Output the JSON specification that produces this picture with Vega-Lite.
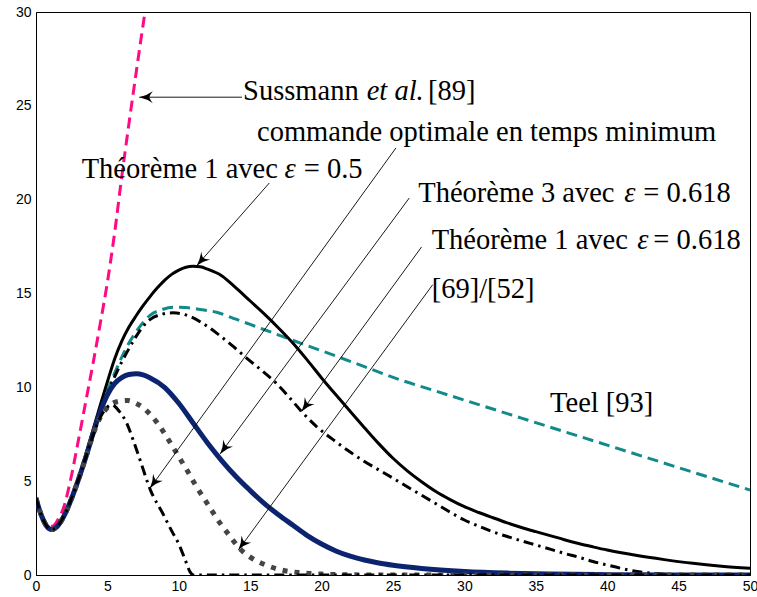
{
  "$schema": "https://vega.github.io/schema/vega-lite/v6.json",
  "width": 714,
  "height": 563,
  "autosize": {"type": "none"},
  "padding": {"left": 36, "top": 12, "right": 7, "bottom": 22},
  "background": "white",
  "config": {
    "view": {"stroke": "black", "strokeWidth": 1},
    "axis": {
      "grid": false,
      "domainColor": "black",
      "domainWidth": 1,
      "ticks": false,
      "labelColor": "black",
      "labelFont": "Liberation Sans",
      "labelFontSize": 14,
      "labelFlush": false,
      "labelOverlap": false,
      "title": null
    }
  },
  "datasets": {
    "curves": [
      {"s": "suss", "x": 0, "y": 4.1}, {"s": "suss", "x": 0.25, "y": 3.45}, {"s": "suss", "x": 0.5, "y": 2.97}, {"s": "suss", "x": 0.75, "y": 2.68}, {"s": "suss", "x": 1, "y": 2.58}, {"s": "suss", "x": 1.25, "y": 2.64}, {"s": "suss", "x": 1.5, "y": 2.9}, {"s": "suss", "x": 2, "y": 3.75}, {"s": "suss", "x": 2.4, "y": 5.0}, {"s": "suss", "x": 3, "y": 7.3}, {"s": "suss", "x": 3.5, "y": 9.3}, {"s": "suss", "x": 4, "y": 11.3}, {"s": "suss", "x": 4.5, "y": 13.4}, {"s": "suss", "x": 5, "y": 15.6}, {"s": "suss", "x": 5.5, "y": 18.2}, {"s": "suss", "x": 6, "y": 21.2}, {"s": "suss", "x": 6.5, "y": 24.0}, {"s": "suss", "x": 7, "y": 26.7}, {"s": "suss", "x": 7.63, "y": 30},

      {"s": "teel", "x": 0, "y": 4.1}, {"s": "teel", "x": 0.25, "y": 3.45}, {"s": "teel", "x": 0.5, "y": 2.95}, {"s": "teel", "x": 0.75, "y": 2.6}, {"s": "teel", "x": 1.1, "y": 2.42}, {"s": "teel", "x": 1.5, "y": 2.6}, {"s": "teel", "x": 2, "y": 3.2}, {"s": "teel", "x": 2.5, "y": 4.1}, {"s": "teel", "x": 3, "y": 5.15},
      {"s": "teel", "x": 3.5, "y": 6.35}, {"s": "teel", "x": 4, "y": 7.6}, {"s": "teel", "x": 4.5, "y": 8.75}, {"s": "teel", "x": 5, "y": 9.8}, {"s": "teel", "x": 5.41, "y": 10.58}, {"s": "teel", "x": 6, "y": 11.6}, {"s": "teel", "x": 6.58, "y": 12.45}, {"s": "teel", "x": 7, "y": 12.95}, {"s": "teel", "x": 7.5, "y": 13.45}, {"s": "teel", "x": 8, "y": 13.85}, {"s": "teel", "x": 8.75, "y": 14.12}, {"s": "teel", "x": 9.6, "y": 14.27}, {"s": "teel", "x": 10.5, "y": 14.25}, {"s": "teel", "x": 11.5, "y": 14.15}, {"s": "teel", "x": 12.65, "y": 14.0}, {"s": "teel", "x": 14, "y": 13.63}, {"s": "teel", "x": 15, "y": 13.35}, {"s": "teel", "x": 16, "y": 13.07}, {"s": "teel", "x": 17.3, "y": 12.7}, {"s": "teel", "x": 19, "y": 12.22}, {"s": "teel", "x": 21, "y": 11.67}, {"s": "teel", "x": 23, "y": 11.1}, {"s": "teel", "x": 25.5, "y": 10.4}, {"s": "teel", "x": 28, "y": 9.8}, {"s": "teel", "x": 31, "y": 9.08}, {"s": "teel", "x": 34, "y": 8.36}, {"s": "teel", "x": 37, "y": 7.64}, {"s": "teel", "x": 40, "y": 6.92}, {"s": "teel", "x": 43, "y": 6.2}, {"s": "teel", "x": 46, "y": 5.48}, {"s": "teel", "x": 50, "y": 4.53},

      {"s": "t05", "x": 0, "y": 4.1}, {"s": "t05", "x": 0.25, "y": 3.45}, {"s": "t05", "x": 0.5, "y": 2.95}, {"s": "t05", "x": 0.75, "y": 2.6}, {"s": "t05", "x": 1.1, "y": 2.42}, {"s": "t05", "x": 1.5, "y": 2.6}, {"s": "t05", "x": 2, "y": 3.2}, {"s": "t05", "x": 2.5, "y": 4.1}, {"s": "t05", "x": 3, "y": 5.2},
      {"s": "t05", "x": 3.5, "y": 6.45}, {"s": "t05", "x": 4, "y": 7.75}, {"s": "t05", "x": 4.5, "y": 9.05}, {"s": "t05", "x": 5, "y": 10.3}, {"s": "t05", "x": 5.5, "y": 11.5}, {"s": "t05", "x": 6, "y": 12.45}, {"s": "t05", "x": 6.5, "y": 13.2}, {"s": "t05", "x": 7, "y": 13.8}, {"s": "t05", "x": 7.5, "y": 14.35}, {"s": "t05", "x": 8, "y": 14.85}, {"s": "t05", "x": 8.5, "y": 15.3}, {"s": "t05", "x": 9, "y": 15.7}, {"s": "t05", "x": 9.5, "y": 16.02}, {"s": "t05", "x": 10, "y": 16.25}, {"s": "t05", "x": 10.5, "y": 16.4}, {"s": "t05", "x": 11, "y": 16.45}, {"s": "t05", "x": 11.5, "y": 16.42}, {"s": "t05", "x": 12, "y": 16.3}, {"s": "t05", "x": 13, "y": 15.95}, {"s": "t05", "x": 14, "y": 15.3}, {"s": "t05", "x": 15, "y": 14.6}, {"s": "t05", "x": 16, "y": 13.9}, {"s": "t05", "x": 17, "y": 13.15}, {"s": "t05", "x": 18, "y": 12.35}, {"s": "t05", "x": 19, "y": 11.45}, {"s": "t05", "x": 20, "y": 10.5}, {"s": "t05", "x": 21, "y": 9.6}, {"s": "t05", "x": 22, "y": 8.72}, {"s": "t05", "x": 23, "y": 7.85}, {"s": "t05", "x": 24, "y": 7.0}, {"s": "t05", "x": 25, "y": 6.22}, {"s": "t05", "x": 26, "y": 5.55}, {"s": "t05", "x": 27, "y": 4.97}, {"s": "t05", "x": 28, "y": 4.45}, {"s": "t05", "x": 29, "y": 4.02}, {"s": "t05", "x": 30, "y": 3.64}, {"s": "t05", "x": 31, "y": 3.33}, {"s": "t05", "x": 32, "y": 3.05}, {"s": "t05", "x": 33, "y": 2.78}, {"s": "t05", "x": 34, "y": 2.53}, {"s": "t05", "x": 35, "y": 2.31}, {"s": "t05", "x": 36, "y": 2.1}, {"s": "t05", "x": 37, "y": 1.88}, {"s": "t05", "x": 38, "y": 1.68}, {"s": "t05", "x": 39, "y": 1.5}, {"s": "t05", "x": 40, "y": 1.33}, {"s": "t05", "x": 42, "y": 1.05}, {"s": "t05", "x": 44, "y": 0.82}, {"s": "t05", "x": 46, "y": 0.62}, {"s": "t05", "x": 48, "y": 0.47}, {"s": "t05", "x": 50, "y": 0.36},

      {"s": "t1618", "x": 0, "y": 4.1}, {"s": "t1618", "x": 0.25, "y": 3.45}, {"s": "t1618", "x": 0.5, "y": 2.95}, {"s": "t1618", "x": 0.75, "y": 2.6}, {"s": "t1618", "x": 1.1, "y": 2.42}, {"s": "t1618", "x": 1.5, "y": 2.6}, {"s": "t1618", "x": 2, "y": 3.2}, {"s": "t1618", "x": 2.5, "y": 4.1}, {"s": "t1618", "x": 3, "y": 5.15},
      {"s": "t1618", "x": 3.5, "y": 6.35}, {"s": "t1618", "x": 4, "y": 7.55}, {"s": "t1618", "x": 4.5, "y": 8.65}, {"s": "t1618", "x": 5, "y": 9.65}, {"s": "t1618", "x": 5.5, "y": 10.55}, {"s": "t1618", "x": 6, "y": 11.35}, {"s": "t1618", "x": 6.5, "y": 12.05}, {"s": "t1618", "x": 7, "y": 12.7}, {"s": "t1618", "x": 7.5, "y": 13.25}, {"s": "t1618", "x": 8, "y": 13.62}, {"s": "t1618", "x": 8.75, "y": 13.88}, {"s": "t1618", "x": 9.6, "y": 13.97}, {"s": "t1618", "x": 10.78, "y": 13.78}, {"s": "t1618", "x": 11.7, "y": 13.4}, {"s": "t1618", "x": 12.65, "y": 12.89}, {"s": "t1618", "x": 13.7, "y": 12.25}, {"s": "t1618", "x": 14.75, "y": 11.56}, {"s": "t1618", "x": 15.8, "y": 10.9}, {"s": "t1618", "x": 16.85, "y": 10.2}, {"s": "t1618", "x": 17.7, "y": 9.5}, {"s": "t1618", "x": 18.6, "y": 8.71}, {"s": "t1618", "x": 19.65, "y": 7.91}, {"s": "t1618", "x": 21, "y": 7.1}, {"s": "t1618", "x": 22, "y": 6.55}, {"s": "t1618", "x": 23, "y": 6.05}, {"s": "t1618", "x": 24, "y": 5.6}, {"s": "t1618", "x": 25, "y": 5.16}, {"s": "t1618", "x": 26, "y": 4.7}, {"s": "t1618", "x": 27, "y": 4.25}, {"s": "t1618", "x": 28, "y": 3.8}, {"s": "t1618", "x": 29, "y": 3.35}, {"s": "t1618", "x": 30, "y": 2.93}, {"s": "t1618", "x": 31, "y": 2.6}, {"s": "t1618", "x": 32, "y": 2.3}, {"s": "t1618", "x": 33, "y": 2.05}, {"s": "t1618", "x": 34, "y": 1.82}, {"s": "t1618", "x": 35, "y": 1.6}, {"s": "t1618", "x": 36, "y": 1.38}, {"s": "t1618", "x": 37, "y": 1.15}, {"s": "t1618", "x": 38, "y": 0.95}, {"s": "t1618", "x": 39, "y": 0.72}, {"s": "t1618", "x": 40, "y": 0.53}, {"s": "t1618", "x": 41, "y": 0.35}, {"s": "t1618", "x": 42, "y": 0.2}, {"s": "t1618", "x": 43, "y": 0.1}, {"s": "t1618", "x": 44, "y": 0.04}, {"s": "t1618", "x": 45, "y": 0.01}, {"s": "t1618", "x": 46, "y": 0}, {"s": "t1618", "x": 50, "y": 0},

      {"s": "t3618", "x": 0, "y": 4.1}, {"s": "t3618", "x": 0.25, "y": 3.45}, {"s": "t3618", "x": 0.5, "y": 2.95}, {"s": "t3618", "x": 0.75, "y": 2.6}, {"s": "t3618", "x": 1.1, "y": 2.42}, {"s": "t3618", "x": 1.5, "y": 2.6}, {"s": "t3618", "x": 2, "y": 3.2}, {"s": "t3618", "x": 2.5, "y": 4.1}, {"s": "t3618", "x": 3, "y": 5.15},
      {"s": "t3618", "x": 3.5, "y": 6.3}, {"s": "t3618", "x": 4, "y": 7.55}, {"s": "t3618", "x": 4.5, "y": 8.7}, {"s": "t3618", "x": 5, "y": 9.6}, {"s": "t3618", "x": 5.5, "y": 10.2}, {"s": "t3618", "x": 6, "y": 10.52}, {"s": "t3618", "x": 6.5, "y": 10.68}, {"s": "t3618", "x": 7.05, "y": 10.72}, {"s": "t3618", "x": 7.5, "y": 10.66}, {"s": "t3618", "x": 8, "y": 10.5}, {"s": "t3618", "x": 9, "y": 10.0}, {"s": "t3618", "x": 10, "y": 9.15}, {"s": "t3618", "x": 11, "y": 8.1}, {"s": "t3618", "x": 12, "y": 7.05}, {"s": "t3618", "x": 13, "y": 6.1}, {"s": "t3618", "x": 14, "y": 5.25}, {"s": "t3618", "x": 15, "y": 4.5}, {"s": "t3618", "x": 16, "y": 3.8}, {"s": "t3618", "x": 17, "y": 3.2}, {"s": "t3618", "x": 18, "y": 2.65}, {"s": "t3618", "x": 19, "y": 2.1}, {"s": "t3618", "x": 20, "y": 1.65}, {"s": "t3618", "x": 21, "y": 1.28}, {"s": "t3618", "x": 22, "y": 1.0}, {"s": "t3618", "x": 23, "y": 0.8}, {"s": "t3618", "x": 24, "y": 0.64}, {"s": "t3618", "x": 25, "y": 0.52}, {"s": "t3618", "x": 27, "y": 0.35}, {"s": "t3618", "x": 30, "y": 0.19}, {"s": "t3618", "x": 33, "y": 0.1}, {"s": "t3618", "x": 36, "y": 0.05}, {"s": "t3618", "x": 40, "y": 0.02}, {"s": "t3618", "x": 45, "y": 0.005}, {"s": "t3618", "x": 50, "y": 0},

      {"s": "lit", "x": 0, "y": 4.1}, {"s": "lit", "x": 0.25, "y": 3.45}, {"s": "lit", "x": 0.5, "y": 2.95}, {"s": "lit", "x": 0.75, "y": 2.6}, {"s": "lit", "x": 1.1, "y": 2.42}, {"s": "lit", "x": 1.5, "y": 2.6}, {"s": "lit", "x": 2, "y": 3.2}, {"s": "lit", "x": 2.5, "y": 4.1}, {"s": "lit", "x": 3, "y": 5.15},
      {"s": "lit", "x": 3.5, "y": 6.3}, {"s": "lit", "x": 4, "y": 7.5}, {"s": "lit", "x": 4.5, "y": 8.4}, {"s": "lit", "x": 5, "y": 8.92}, {"s": "lit", "x": 5.6, "y": 9.22}, {"s": "lit", "x": 6.4, "y": 9.3}, {"s": "lit", "x": 7, "y": 9.15}, {"s": "lit", "x": 7.75, "y": 8.75}, {"s": "lit", "x": 8.5, "y": 8.1}, {"s": "lit", "x": 9.2, "y": 7.3}, {"s": "lit", "x": 10, "y": 6.3}, {"s": "lit", "x": 10.6, "y": 5.55}, {"s": "lit", "x": 11.2, "y": 4.75}, {"s": "lit", "x": 12, "y": 3.8}, {"s": "lit", "x": 12.9, "y": 2.75}, {"s": "lit", "x": 13.5, "y": 2.15}, {"s": "lit", "x": 14.3, "y": 1.38}, {"s": "lit", "x": 15, "y": 0.95}, {"s": "lit", "x": 16.2, "y": 0.5}, {"s": "lit", "x": 17, "y": 0.3}, {"s": "lit", "x": 18.5, "y": 0.12}, {"s": "lit", "x": 20, "y": 0.05}, {"s": "lit", "x": 22, "y": 0.01}, {"s": "lit", "x": 25, "y": 0}, {"s": "lit", "x": 50, "y": 0},

      {"s": "opt", "x": 0, "y": 4.1}, {"s": "opt", "x": 0.25, "y": 3.45}, {"s": "opt", "x": 0.5, "y": 2.95}, {"s": "opt", "x": 0.75, "y": 2.6}, {"s": "opt", "x": 1.1, "y": 2.42}, {"s": "opt", "x": 1.5, "y": 2.6}, {"s": "opt", "x": 2, "y": 3.2}, {"s": "opt", "x": 2.5, "y": 4.1}, {"s": "opt", "x": 3, "y": 5.15},
      {"s": "opt", "x": 3.5, "y": 6.3}, {"s": "opt", "x": 4, "y": 7.45}, {"s": "opt", "x": 4.5, "y": 8.4}, {"s": "opt", "x": 5, "y": 8.95}, {"s": "opt", "x": 5.3, "y": 9.07}, {"s": "opt", "x": 5.9, "y": 8.65}, {"s": "opt", "x": 6.35, "y": 8.1}, {"s": "opt", "x": 6.8, "y": 7.2}, {"s": "opt", "x": 7.3, "y": 6.1}, {"s": "opt", "x": 8, "y": 4.55}, {"s": "opt", "x": 8.9, "y": 3.25}, {"s": "opt", "x": 9.5, "y": 2.35}, {"s": "opt", "x": 10, "y": 1.65}, {"s": "opt", "x": 10.45, "y": 0.8}, {"s": "opt", "x": 10.8, "y": 0.15}, {"s": "opt", "x": 11, "y": 0}, {"s": "opt", "x": 50, "y": 0}
    ],
    "arrows": [
      {"x": 14.43, "y": 25.46, "x2": 7.23, "y2": 25.46},
      {"x": 25.21, "y": 22.76, "x2": 7.98, "y2": 4.62},
      {"x": 16.34, "y": 20.89, "x2": 11.25, "y2": 16.48},
      {"x": 26.14, "y": 20.09, "x2": 12.89, "y2": 6.45},
      {"x": 27.0, "y": 17.48, "x2": 18.6, "y2": 8.71},
      {"x": 27.78, "y": 15.47, "x2": 14.17, "y2": 1.33}
    ],
    "labels": [
      {"t": "Sussmann", "x": 14.5, "y": 25.33},
      {"t": "[89]", "x": 27.45, "y": 25.33},
      {"t": "commande optimale en temps minimum", "x": 15.48, "y": 23.1},
      {"t": "Théorème 1 avec", "x": 3.2, "y": 21.13},
      {"t": "= 0.5", "x": 18.75, "y": 21.13},
      {"t": "Théorème 3 avec", "x": 26.77, "y": 19.9},
      {"t": "= 0.618", "x": 42.53, "y": 19.9},
      {"t": "Théorème 1 avec", "x": 27.71, "y": 17.37},
      {"t": "= 0.618", "x": 43.23, "y": 17.37},
      {"t": "[69]/[52]", "x": 27.71, "y": 14.76},
      {"t": "Teel [93]", "x": 36.0, "y": 8.71}
    ],
    "italic": [
      {"t": "et al.", "x": 23.16, "y": 25.33},
      {"t": "ε", "x": 17.4, "y": 21.13},
      {"t": "ε", "x": 41.2, "y": 19.9},
      {"t": "ε", "x": 42.1, "y": 17.37}
    ],
    "xticks": [
      {"v": 5}, {"v": 10}, {"v": 15}, {"v": 20}, {"v": 25}, {"v": 30}, {"v": 35}, {"v": 40}, {"v": 45}
    ],
    "yticks": [
      {"v": 5}, {"v": 10}, {"v": 15}, {"v": 20}, {"v": 25}
    ]
  },
  "encoding": {
    "x": {"field": "x", "type": "quantitative", "scale": {"domain": [0, 50], "nice": false, "zero": false}, "axis": null},
    "y": {"field": "y", "type": "quantitative", "scale": {"domain": [0, 30], "nice": false, "zero": false}, "axis": null}
  },
  "layer": [
    {
      "data": {"name": "curves"},
      "transform": [{"filter": "datum.s === 'suss'"}],
      "mark": {"type": "line", "color": "#ff0a84", "strokeWidth": 3, "strokeDash": [11, 6], "interpolate": "monotone", "clip": true},
      "encoding": {
        "x": {"field": "x", "type": "quantitative", "scale": {"domain": [0, 50], "nice": false, "zero": false},
              "axis": {"orient": "bottom", "values": [0, 5, 10, 15, 20, 25, 30, 35, 40, 45, 50], "labelPadding": 4}},
        "y": {"field": "y", "type": "quantitative", "scale": {"domain": [0, 30], "nice": false, "zero": false},
              "axis": {"orient": "left", "values": [0, 5, 10, 15, 20, 25, 30], "labelPadding": 5}}
      }
    },
    {
      "data": {"name": "curves"},
      "transform": [{"filter": "datum.s === 'teel'"}],
      "mark": {"type": "line", "color": "#138a8a", "strokeWidth": 3, "strokeDash": [11, 6], "interpolate": "monotone", "clip": true}
    },
    {
      "data": {"name": "curves"},
      "transform": [{"filter": "datum.s === 't05'"}],
      "mark": {"type": "line", "color": "black", "strokeWidth": 3, "interpolate": "monotone", "clip": true}
    },
    {
      "data": {"name": "curves"},
      "transform": [{"filter": "datum.s === 't1618'"}],
      "mark": {"type": "line", "color": "black", "strokeWidth": 3, "strokeDash": [10, 5, 2.5, 5], "interpolate": "monotone", "clip": true}
    },
    {
      "data": {"name": "curves"},
      "transform": [{"filter": "datum.s === 't3618'"}],
      "mark": {"type": "line", "color": "#0c2470", "strokeWidth": 5, "interpolate": "monotone", "clip": true}
    },
    {
      "data": {"name": "curves"},
      "transform": [{"filter": "datum.s === 'lit'"}],
      "mark": {"type": "line", "color": "#454545", "strokeWidth": 5, "strokeDash": [5, 7], "strokeCap": "butt", "interpolate": "monotone", "clip": true}
    },
    {
      "data": {"name": "curves"},
      "transform": [{"filter": "datum.s === 'opt'"}],
      "mark": {"type": "line", "color": "black", "strokeWidth": 3, "strokeDash": [10, 5, 2.5, 5], "interpolate": "monotone", "clip": true}
    },
    {
      "data": {"name": "xticks"},
      "mark": {"type": "tick", "orient": "vertical", "color": "black", "opacity": 1, "thickness": 1.2, "size": 14, "clip": true},
      "encoding": {"x": {"field": "v", "type": "quantitative"}, "y": {"datum": 0, "type": "quantitative"}}
    },
    {
      "data": {"name": "xticks"},
      "mark": {"type": "tick", "orient": "vertical", "color": "black", "opacity": 1, "thickness": 1.2, "size": 14, "clip": true},
      "encoding": {"x": {"field": "v", "type": "quantitative"}, "y": {"datum": 30, "type": "quantitative"}}
    },
    {
      "data": {"name": "yticks"},
      "mark": {"type": "tick", "orient": "horizontal", "color": "black", "opacity": 1, "thickness": 1.2, "size": 14, "clip": true},
      "encoding": {"y": {"field": "v", "type": "quantitative"}, "x": {"datum": 0, "type": "quantitative"}}
    },
    {
      "data": {"name": "yticks"},
      "mark": {"type": "tick", "orient": "horizontal", "color": "black", "opacity": 1, "thickness": 1.2, "size": 14, "clip": true},
      "encoding": {"y": {"field": "v", "type": "quantitative"}, "x": {"datum": 50, "type": "quantitative"}}
    },
    {
      "data": {"name": "arrows"},
      "mark": {"type": "rule", "color": "black", "strokeWidth": 0.9},
      "encoding": {
        "x2": {"field": "x2"},
        "y2": {"field": "y2"}
      }
    },
    {
      "data": {"name": "arrows"},
      "transform": [{"calculate": "atan2((datum.x2 - datum.x) * 14.28, (datum.y2 - datum.y) * 18.767) * 180 / PI", "as": "a"}],
      "mark": {"type": "point", "shape": "M0,0 Q0.2,0.9 0.7,1.6 Q0.2,1.2 0,1.2 Q-0.2,1.2 -0.7,1.6 Q-0.2,0.9 0,0 Z", "filled": true, "color": "black", "opacity": 1, "size": 290, "strokeWidth": 0},
      "encoding": {
        "x": {"field": "x2", "type": "quantitative"},
        "y": {"field": "y2", "type": "quantitative"},
        "angle": {"field": "a", "type": "quantitative", "scale": null}
      }
    },
    {
      "data": {"name": "labels"},
      "mark": {"type": "text", "font": "Liberation Serif", "fontSize": 28.5, "align": "left", "baseline": "alphabetic", "color": "black"},
      "encoding": {"text": {"field": "t"}}
    },
    {
      "data": {"name": "italic"},
      "mark": {"type": "text", "font": "Liberation Serif", "fontSize": 28.5, "fontStyle": "italic", "align": "left", "baseline": "alphabetic", "color": "black"},
      "encoding": {"text": {"field": "t"}}
    }
  ],
  "resolve": {"axis": {"x": "independent", "y": "independent"}}
}
